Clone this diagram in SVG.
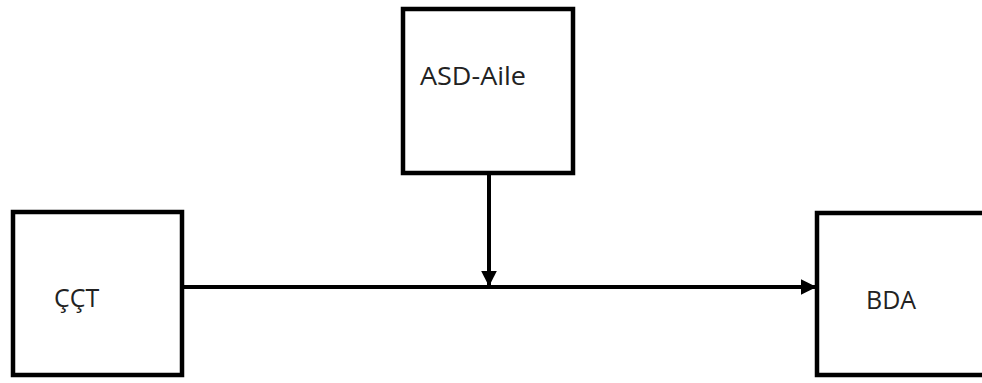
<svg xmlns="http://www.w3.org/2000/svg" width="982" height="383" viewBox="0 0 982 383">
<style>
.box{fill:#fff;stroke:#000;stroke-width:4.5}
.lbl{font-family:"Open Sans","Liberation Sans",sans-serif;font-size:25px;fill:#222}
.con{stroke:#000;stroke-width:4;fill:none}
</style>
<defs>
<marker id="ah" viewBox="0 0 10 10" refX="9" refY="5" markerWidth="4" markerHeight="4" markerUnits="strokeWidth" orient="auto">
<path d="M0,0 L10,5 L0,10 z" fill="#000"/>
</marker>
</defs>
<rect width="982" height="383" fill="#fff"/>
<g id="node-asd">
<rect class="box" x="403" y="9" width="170" height="164"/>
<text class="lbl" x="420" y="85" textLength="106" lengthAdjust="spacingAndGlyphs">ASD-Aile</text>
</g>
<g id="node-cct">
<rect class="box" x="13" y="212" width="169" height="163"/>
<text class="lbl" x="54" y="307">ÇÇT</text>
</g>
<g id="node-bda">
<rect class="box" x="817" y="213" width="170" height="162"/>
<text class="lbl" x="866" y="309">BDA</text>
</g>
<g id="connectors">
<line class="con" x1="182" y1="287" x2="815" y2="287" marker-end="url(#ah)"/>
<line class="con" x1="489" y1="173" x2="489" y2="285" marker-end="url(#ah)"/>
</g>
</svg>
